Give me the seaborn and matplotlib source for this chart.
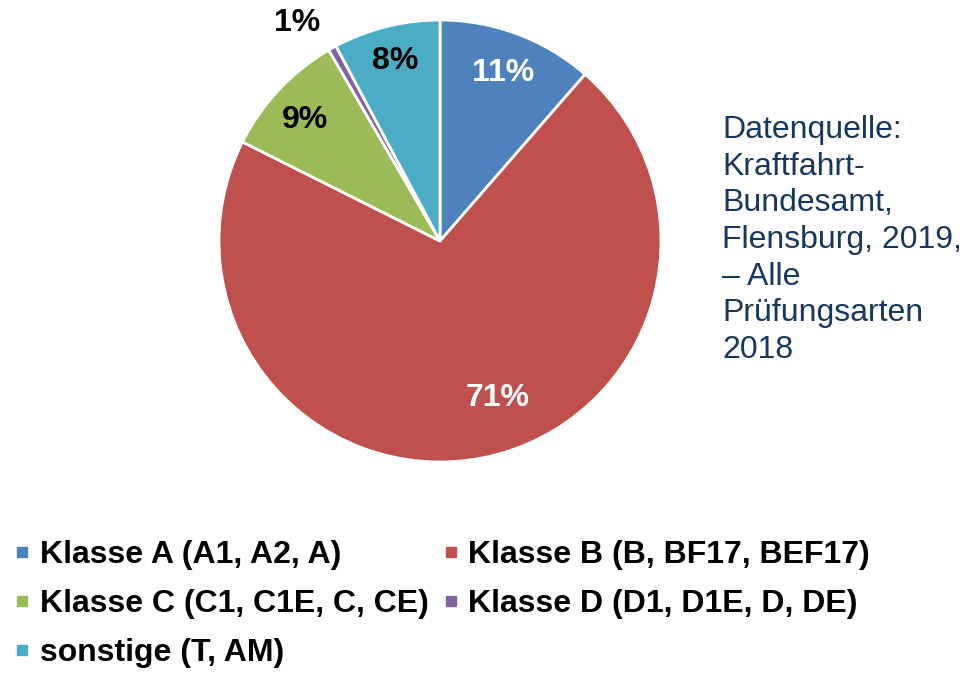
import numpy as np
import seaborn as sns
import matplotlib.pyplot as plt
from matplotlib.lines import Line2D

# Data (share of driving tests, %)
categories = ['Klasse A (A1, A2, A)', 'Klasse B (B, BF17, BEF17)',
              'Klasse C (C1, C1E, C, CE)', 'Klasse D (D1, D1E, D, DE)',
              'sonstige (T, AM)']
shares = [11.4, 71.0, 9.2, 0.6, 7.8]
colors = ['#4F81BD', '#C0504D', '#9BBB59', '#8064A2', '#4BACC6']
label_colors = ['white', 'white', 'black', 'black', 'black']
source_text = ('Datenquelle:\nKraftfahrt-\nBundesamt,\nFlensburg, 2019,\n'
               '– Alle\nPrüfungsarten\n2018')

sns.set_theme(style="white")
plt.rcParams['font.family'] = ['Liberation Sans', 'DejaVu Sans']
plt.rcParams['text.color'] = 'black'

fig = plt.figure(figsize=(9.78, 6.73), dpi=100)
ax = fig.add_axes([219 / 978, 1 - 462 / 673, 442 / 978, 442 / 673])

wedges, texts, autotexts = ax.pie(
    shares, colors=colors, startangle=90, counterclock=False,
    autopct=lambda p: f'{p:.0f}%', pctdistance=0.8,
    wedgeprops=dict(edgecolor='white', linewidth=2),
    textprops=dict(fontsize=23, fontweight='bold'))
ax.set_xlim(-1, 1)
ax.set_ylim(-1, 1)
ax.set_aspect('equal')

# label placement tweaks (distance from centre / angle shift as in the original)
dists = [0.81, 0.755, 0.82, 1.18, 0.84]
shifts = [0, 9, 1.5, 4, 0]
for w, t, c, d, s in zip(wedges, autotexts, label_colors, dists, shifts):
    ang = np.deg2rad((w.theta1 + w.theta2) / 2 + s)
    t.set_position((d * np.cos(ang), d * np.sin(ang)))
    t.set_color(c)
    t.set_clip_on(False)

fig.text(722 / 978, 1 - 115 / 673, source_text, color='#17375E',
         fontsize=23, va='top', ha='left', linespacing=1.29)

handles = [Line2D([0], [0], marker='s', linestyle='', markersize=7,
                  markerfacecolor=c, markeredgecolor=c) for c in colors]
# legend fills row by row in the original
order = [0, 2, 4, 1, 3]
fig.legend([handles[i] for i in order], [categories[i] for i in order],
           loc='upper left', ncol=2,
           bbox_to_anchor=(14 / 978, 1 - 540 / 673), frameon=False,
           prop=dict(size=23, weight='bold'), handlelength=0.5,
           handletextpad=0.3, columnspacing=0.45, labelspacing=0.6,
           borderpad=0, borderaxespad=0)

fig.savefig('out.png', dpi=100)
